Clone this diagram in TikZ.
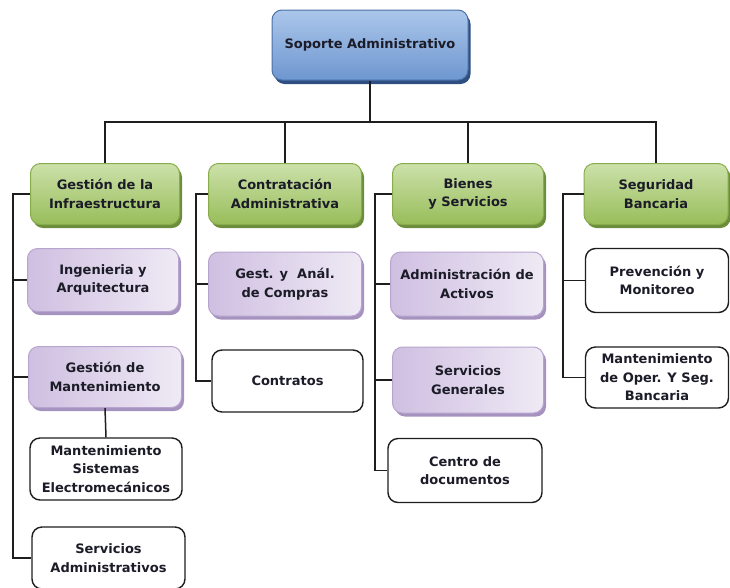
\documentclass[tikz,border=0pt]{standalone}
\usepackage{fontspec}
\setmainfont{DejaVu Sans}
\definecolor{txt}{HTML}{1C1C28}
\definecolor{ln}{HTML}{1E1E1E}
\definecolor{blueT}{HTML}{ABC6EA}
\definecolor{blueB}{HTML}{6E97D0}
\definecolor{blueD}{HTML}{4A70A8}
\definecolor{blueS}{HTML}{2F4F82}
\definecolor{greenT}{HTML}{CCE1AA}
\definecolor{greenB}{HTML}{98BD5A}
\definecolor{greenD}{HTML}{88AC4C}
\definecolor{greenS}{HTML}{6C8E3C}
\definecolor{purL}{HTML}{CFBFE1}
\definecolor{purR}{HTML}{EFEAF5}
\definecolor{purD}{HTML}{B8A5CF}
\definecolor{purS}{HTML}{A592BE}
\tikzset{
  box/.style={rounded corners=10pt, align=center, inner sep=1pt,
    font=\fontsize{13}{18.5}\selectfont\bfseries, text=txt},
  bluebox/.style={box, draw=blueD, line width=1pt, top color=blueT, bottom color=blueB,
    preaction={fill=blueS, transform canvas={xshift=2.5pt,yshift=-4pt}}},
  greenbox/.style={box, draw=greenD, line width=1pt, top color=greenT, bottom color=greenB,
    preaction={fill=greenS, transform canvas={xshift=2.5pt,yshift=-3.5pt}}},
  purbox/.style={box, draw=purD, line width=1pt, left color=purL, right color=purR,
    preaction={fill=purS, transform canvas={xshift=2.5pt,yshift=-3.5pt}}},
  whitebox/.style={box, draw=ln, line width=1.4pt, fill=white},
  conn/.style={draw=ln, line width=1.5pt}
}
\begin{document}
\begin{tikzpicture}[x=1pt,y=-1pt]
\useasboundingbox (0,0) rectangle (730,587);
% top
\node[bluebox, minimum width=196pt, minimum height=70pt] (top) at (370,45) {Soporte Administrativo};
% level 1
\node[greenbox, minimum width=149pt, minimum height=61pt] (g1) at (105,194) {Gestión de la\\Infraestructura};
\node[greenbox, minimum width=153pt, minimum height=61pt] (g2) at (285,194) {Contratación\\Administrativa};
\node[greenbox, minimum width=151pt, minimum height=61pt] (g3) at (468,194) {Bienes\\y Servicios};
\node[greenbox, minimum width=144pt, minimum height=61pt] (g4) at (656,194) {Seguridad\\Bancaria};
% column 1
\node[purbox, minimum width=151pt, minimum height=63pt] (p1) at (103,280) {Ingenieria y\\Arquitectura};
\node[purbox, minimum width=153pt, minimum height=61pt] (p2) at (105,377) {Gestión de\\Mantenimiento};
\node[whitebox, minimum width=152pt, minimum height=62pt] (w1) at (106,469) {Mantenimiento\\Sistemas\\Electromecánicos};
\node[whitebox, minimum width=153pt, minimum height=62pt] (w2) at (108.5,558) {Servicios\\Administrativos};
% column 2
\node[purbox, minimum width=153pt, minimum height=64pt] (p3) at (285,284) {Gest. y \ Anál.\\de Compras};
\node[whitebox, minimum width=151pt, minimum height=62pt] (w3) at (287.5,381) {Contratos};
% column 3
\node[purbox, minimum width=153pt, minimum height=64pt] (p4) at (467,284) {Administración de\\Activos};
\node[purbox, minimum width=151pt, minimum height=66pt] (p5) at (468,380) {Servicios\\Generales};
\node[whitebox, minimum width=154pt, minimum height=64pt] (w4) at (465,470.5) {Centro de\\documentos};
% column 4
\node[whitebox, minimum width=143pt, minimum height=64pt] (w5) at (657,280.5) {Prevención y\\Monitoreo};
\node[whitebox, minimum width=143pt, minimum height=61pt] (w6) at (657,377.5) {Mantenimiento\\de Oper. Y Seg.\\Bancaria};
% connector coordinates
\coordinate (hub) at (370,122);
\coordinate (bx1) at (13,0);
\coordinate (bx2) at (196,0);
\coordinate (bx3) at (375,0);
\coordinate (bx4) at (563,0);
\begin{scope}[on background layer/.try]
\end{scope}
% top connectors
\draw[conn] (top.south) -- (hub);
\draw[conn] (g1.north) -- (g1.north |- hub) -- (g4.north |- hub) -- (g4.north);
\draw[conn] (g2.north |- hub) -- (g2.north);
\draw[conn] (g3.north |- hub) -- (g3.north);
% column 1
\draw[conn] (g1.west) -- (g1.west -| bx1) -- (w2.west -| bx1) -- (w2.west);
\draw[conn] (p1.west -| bx1) -- (p1.west);
\draw[conn] (p2.west -| bx1) -- (p2.west);
\draw[conn] (p2.south) -- (w1.north);
% column 2
\draw[conn] (g2.west) -- (g2.west -| bx2) -- (w3.west -| bx2) -- (w3.west);
\draw[conn] (p3.west -| bx2) -- (p3.west);
% column 3
\draw[conn] (g3.west) -- (g3.west -| bx3) -- (w4.west -| bx3) -- (w4.west);
\draw[conn] (p4.west -| bx3) -- (p4.west);
\draw[conn] (p5.west -| bx3) -- (p5.west);
% column 4
\draw[conn] (g4.west) -- (g4.west -| bx4) -- (w6.west -| bx4) -- (w6.west);
\draw[conn] (w5.west -| bx4) -- (w5.west);
\end{tikzpicture}
\end{document}
